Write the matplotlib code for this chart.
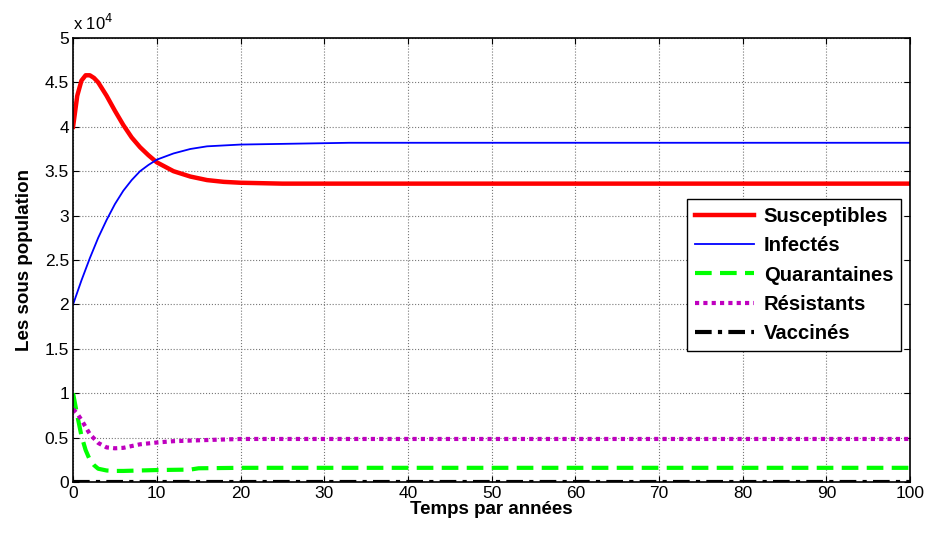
import matplotlib.pyplot as plt
from matplotlib.ticker import FuncFormatter

plt.rcParams['font.family'] = ['Liberation Sans', 'DejaVu Sans']

t_s = [0, 0.5, 1, 1.5, 2, 2.5, 3, 4, 5, 6, 7, 8, 9, 10, 11, 12, 14, 16, 18, 20, 25, 30, 100]
susceptibles = [40000, 43500, 45200, 45800, 45800, 45500, 45000, 43500, 41800, 40200, 38800, 37700, 36800, 36000, 35500, 35000, 34400, 34000, 33800, 33700, 33600, 33600, 33600]

t_i = [0, 1, 2, 3, 4, 5, 6, 7, 8, 9, 10, 12, 14, 16, 18, 20, 33, 100]
infectes = [20000, 22700, 25200, 27500, 29500, 31300, 32800, 34000, 35000, 35700, 36300, 37000, 37500, 37800, 37900, 38000, 38200, 38200]

t_q = [0, 0.5, 1, 1.5, 2, 2.5, 3, 4, 5, 6, 8, 10, 14, 15, 20, 100]
quarantaines = [10000, 7500, 5200, 3600, 2500, 1900, 1500, 1300, 1250, 1250, 1300, 1350, 1400, 1550, 1600, 1600]

t_r = [0, 0.5, 1, 1.5, 2, 3, 4, 5, 6, 7, 8, 10, 12, 15, 20, 100]
resistants = [8200, 7700, 7000, 6200, 5400, 4400, 3900, 3800, 3850, 4050, 4250, 4450, 4600, 4700, 4850, 4850]

t_v = [0, 100]
vaccines = [0, 0]

fig = plt.figure(figsize=(9.25, 5.35), dpi=100)
ax = fig.add_axes([0.079, 0.099, 0.905, 0.83])

ax.plot(t_s, susceptibles, color='#ff0000', lw=3.2, label='Susceptibles')
ax.plot(t_i, infectes, color='#0000ff', lw=1.3, label='Infectés')
ax.plot(t_q, quarantaines, color='#00ff00', lw=3, ls=(0, (4, 2)), label='Quarantaines')
ax.plot(t_r, resistants, color='#bf00bf', lw=3, ls=(0, (1, 1)), label='Résistants')
ax.plot(t_v, vaccines, color='black', lw=3, ls=(0, (4, 1.5, 1, 1.5)), label='Vaccinés')

ax.set_xlim(0, 100)
ax.set_ylim(0, 50000)
ax.set_xticks(range(0, 101, 10))
ax.set_yticks([i * 5000 for i in range(11)])
ax.yaxis.set_major_formatter(FuncFormatter(lambda v, p: '%g' % (v / 1e4)))
ax.tick_params(direction='in', labelsize=12.5, top=True, right=True, length=4, pad=3)
ax.grid(True, color='#777777', ls=':', lw=0.8)
for s in ax.spines.values():
    s.set_linewidth(1.2)

ax.set_xlabel('Temps par années', fontsize=13.5, fontweight='bold', labelpad=0)
ax.set_ylabel('Les sous population', fontsize=13.5, fontweight='bold', labelpad=8)
ax.text(0.0, 1.012, 'x 10$^4$', transform=ax.transAxes, fontsize=12, va='bottom')

leg = ax.legend(loc='upper left', bbox_to_anchor=(0.733, 0.637), borderaxespad=0,
                fancybox=False, edgecolor='black', framealpha=1,
                handlelength=2.9, handletextpad=0.5,
                prop={'weight': 'bold', 'size': 14.6}, borderpad=0.4, labelspacing=0.5)
leg.get_frame().set_linewidth(1)

fig.savefig('out.png', dpi=100)
